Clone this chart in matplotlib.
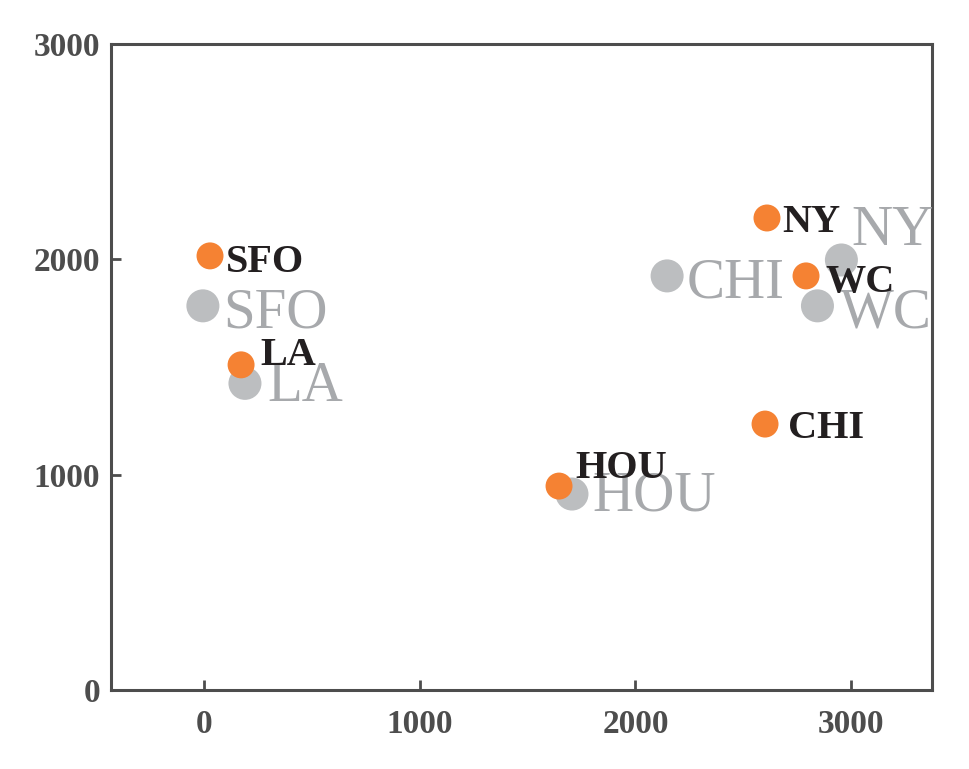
import matplotlib
matplotlib.use("Agg")
import matplotlib.pyplot as plt

cities = ["SFO", "LA", "NY", "WC", "CHI", "HOU"]
est_x = [28, 172, 2610, 2791, 2601, 1646]
est_y = [2016, 1510, 2192, 1923, 1235, 947]
ref_names = ["SFO", "LA", "CHI", "NY", "WC", "HOU"]
ref_x = [-5, 190, 2147, 2955, 2844, 1706]
ref_y = [1784, 1424, 1923, 1997, 1784, 910]
xticks = [0, 1000, 2000, 3000]
yticks = [0, 1000, 2000, 3000]

# label offsets in pixels (dx right, dy down) from marker centre to text baseline-left
est_off = [(16, 16), (19, 0), (15, 14), (19, 16), (23, 14), (16, -8)]
ref_off = [(20, 22), (22, 18), (20, 22), (10, -15), (22, 22), (20, 16)]

ORANGE = "#F58233"
GRAY_M = "#BCBEC0"
GRAY_T = "#A7A9AC"
BLACK_T = "#231F20"
AXC = "#4D4D4D"

fig = plt.figure(figsize=(9.69, 7.69), dpi=100)
ax = fig.add_axes([111 / 969, 1 - 690 / 769, (932 - 111) / 969, (690 - 44) / 769])

ax.scatter(ref_x, ref_y, s=565, color=GRAY_M, edgecolors="none", zorder=2)
for n, x, y, (dx, dy) in zip(ref_names, ref_x, ref_y, ref_off):
    ax.annotate(n, (x, y), xytext=(dx, -dy), textcoords="offset pixels",
                ha="left", va="baseline", fontsize=41, color=GRAY_T,
                family="Liberation Serif", fontweight="normal", zorder=3)

ax.scatter(est_x, est_y, s=377, color=ORANGE, edgecolors="none", zorder=4)
for n, x, y, (dx, dy) in zip(cities, est_x, est_y, est_off):
    ax.annotate(n, (x, y), xytext=(dx, -dy), textcoords="offset pixels",
                ha="left", va="baseline", fontsize=29, color=BLACK_T,
                family="Liberation Serif", fontweight="bold", zorder=5)

ax.set_xlim(-431, 3375)
ax.set_ylim(0, 3000)
ax.set_xticks(xticks)
ax.set_yticks(yticks)
ax.set_xticklabels([str(t) for t in xticks])
ax.set_yticklabels([str(t) for t in yticks])
for lab in ax.get_xticklabels() + ax.get_yticklabels():
    lab.set_family("Liberation Serif")
    lab.set_fontweight("bold")
    lab.set_fontsize(24)
    lab.set_color(AXC)
ax.tick_params(axis="both", direction="in", length=7, width=2, color=AXC)
ax.tick_params(axis="x", pad=14)
ax.tick_params(axis="y", pad=8)
for sp in ax.spines.values():
    sp.set_color(AXC)
    sp.set_linewidth(2.2)

fig.savefig("out.png", dpi=100)
